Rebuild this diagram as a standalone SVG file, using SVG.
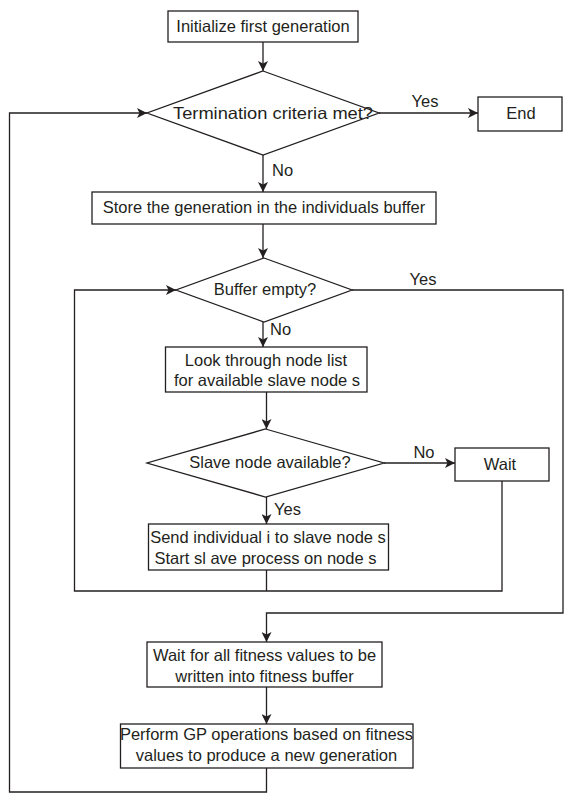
<svg xmlns="http://www.w3.org/2000/svg" width="568" height="794" viewBox="0 0 568 794">
<defs>
<style>
.n{fill:#fff;stroke:#231f20;stroke-width:1.3}
.c{fill:none;stroke:#231f20;stroke-width:1.3}
text{font-family:"Liberation Sans",Arial,sans-serif;font-size:16.5px;fill:#231f20}
.m{text-anchor:middle}
</style>
<marker id="ah" viewBox="0 0 10 10" refX="10" refY="5" markerWidth="10" markerHeight="10" markerUnits="userSpaceOnUse" orient="auto">
<path d="M0,0 L10,5 L0,10 L2.5,5 z" fill="#231f20"/>
</marker>
</defs>
<rect width="568" height="794" fill="#fff"/>
<g id="connectors">
<line class="c" x1="263" y1="42" x2="263" y2="71" marker-end="url(#ah)"/>
<line class="c" x1="379" y1="113" x2="478" y2="113" marker-end="url(#ah)"/>
<line class="c" x1="263" y1="155" x2="263" y2="192" marker-end="url(#ah)"/>
<line class="c" x1="263" y1="224" x2="263" y2="258" marker-end="url(#ah)"/>
<line class="c" x1="263" y1="322" x2="263" y2="347" marker-end="url(#ah)"/>
<line class="c" x1="266.5" y1="392" x2="266.5" y2="429" marker-end="url(#ah)"/>
<line class="c" x1="384" y1="463" x2="455" y2="463" marker-end="url(#ah)"/>
<line class="c" x1="266.5" y1="497" x2="266.5" y2="524" marker-end="url(#ah)"/>
<polyline class="c" points="266.5,570 266.5,591"/>
<polyline class="c" points="502,481 502,591 74.5,591 74.5,290 176,290" marker-end="url(#ah)"/>
<polyline class="c" points="352,290 563,290 563,613 266.5,613 266.5,642" marker-end="url(#ah)"/>
<line class="c" x1="266.5" y1="687" x2="266.5" y2="724" marker-end="url(#ah)"/>
<polyline class="c" points="266.5,768 266.5,792 9.5,792 9.5,113 147,113" marker-end="url(#ah)"/>
<text x="425" y="107" class="m">Yes</text>
<text x="272" y="176">No</text>
<text x="423" y="285" class="m">Yes</text>
<text x="270" y="335">No</text>
<text x="424" y="458" class="m">No</text>
<text x="274" y="515">Yes</text>
</g>
<g id="init">
<rect class="n" x="168" y="11" width="190" height="31"/>
<text x="263" y="32" class="m">Initialize first generation</text>
</g>
<g id="termination">
<polygon class="n" points="263,71 379,113 263,155 147,113"/>
<text x="273" y="119" class="m" textLength="200" lengthAdjust="spacingAndGlyphs">Termination criteria met?</text>
</g>
<g id="end">
<rect class="n" x="478" y="97" width="84" height="34"/>
<text x="521" y="119" class="m">End</text>
</g>
<g id="store">
<rect class="n" x="92" y="192" width="344" height="32"/>
<text x="264" y="213" class="m">Store the generation in the individuals buffer</text>
</g>
<g id="buffer">
<polygon class="n" points="264,258 352,290 264,322 176,290"/>
<text x="265" y="295" class="m">Buffer empty?</text>
</g>
<g id="look">
<rect class="n" x="165.5" y="347" width="201.5" height="45"/>
<text x="266" y="366" class="m">Look through node list</text>
<text x="267" y="386" class="m">for available slave node s</text>
</g>
<g id="slave">
<polygon class="n" points="265.5,429 384,463 265.5,497 147,463"/>
<text x="270" y="468" class="m">Slave node available?</text>
</g>
<g id="wait">
<rect class="n" x="455" y="448" width="94" height="33"/>
<text x="500" y="470" class="m">Wait</text>
</g>
<g id="send">
<rect class="n" x="148.5" y="524" width="240" height="46"/>
<text x="268" y="543" class="m">Send individual i to slave node s</text>
<text x="265.5" y="564" class="m">Start sl ave process on node s</text>
</g>
<g id="fitness">
<rect class="n" x="147" y="642" width="235" height="45"/>
<text x="264.5" y="661" class="m">Wait for all fitness values to be</text>
<text x="264.5" y="682" class="m">written into fitness buffer</text>
</g>
<g id="perform">
<rect class="n" x="120.5" y="724" width="292.5" height="44"/>
<text x="266.5" y="740" class="m">Perform GP operations based on fitness</text>
<text x="266.5" y="761" class="m">values to produce a new generation</text>
</g>
</svg>
